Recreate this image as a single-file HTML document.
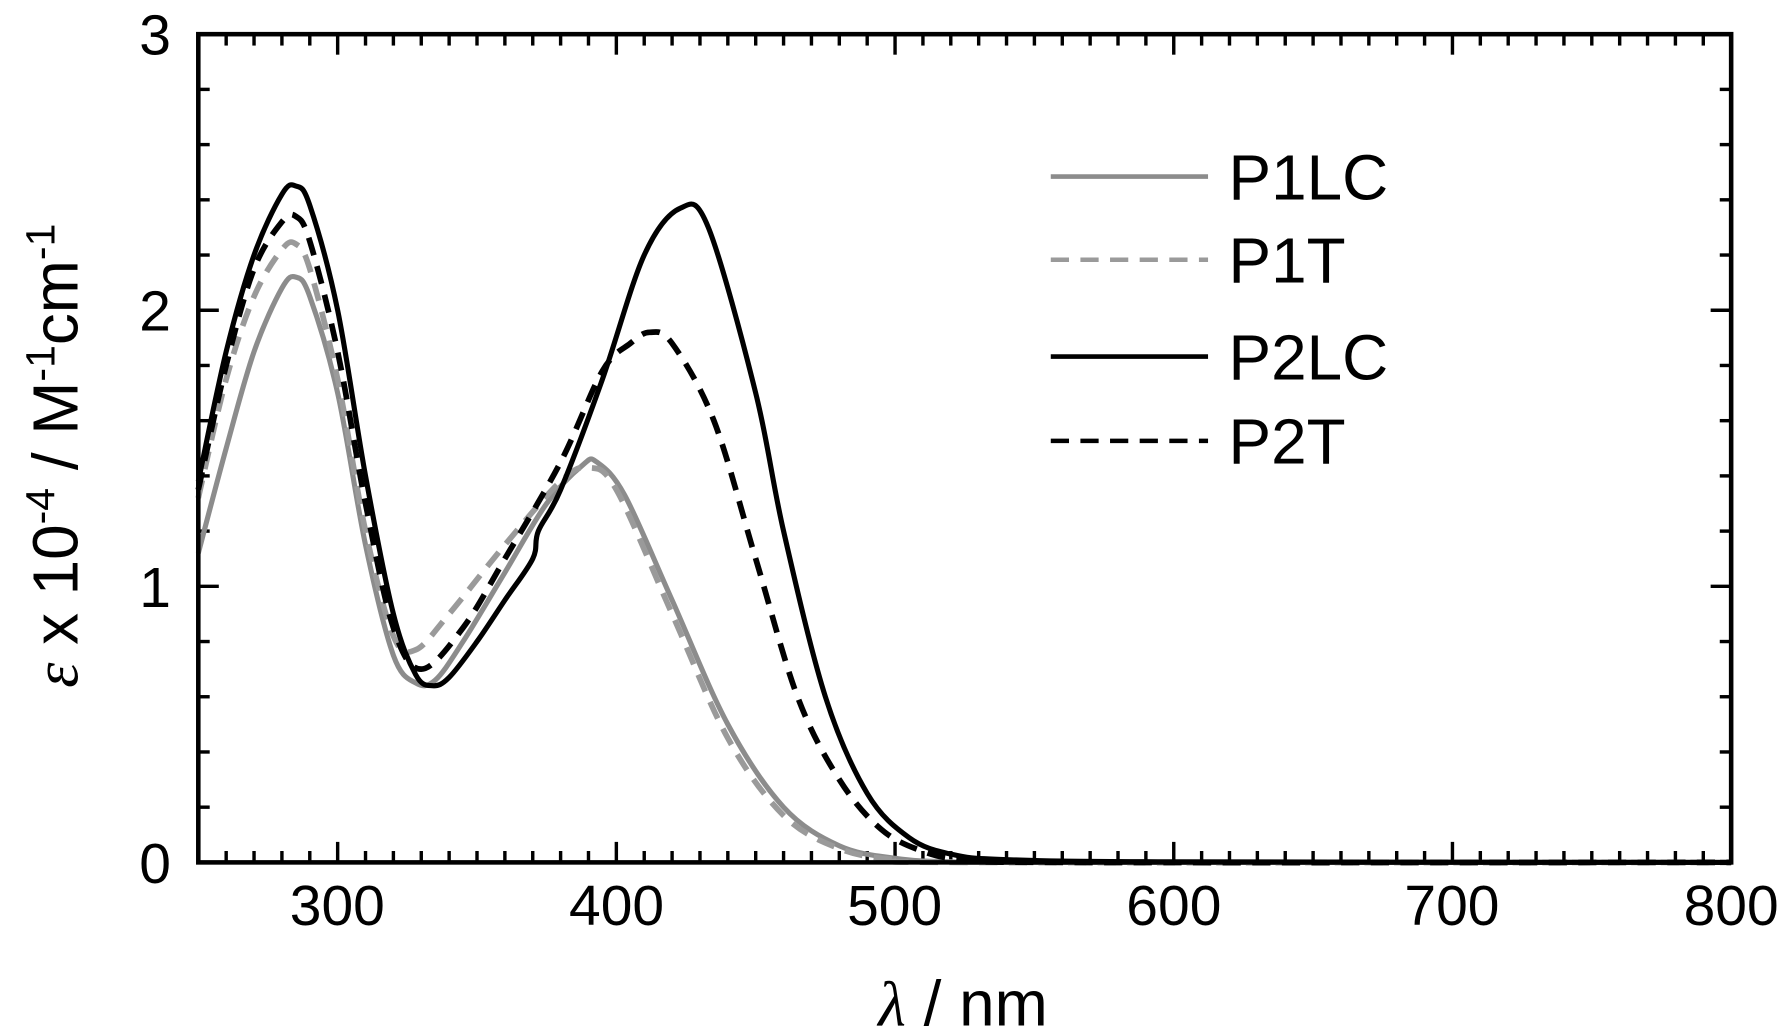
<!DOCTYPE html>
<html><head><meta charset="utf-8">
<style>
html,body{margin:0;padding:0;background:#fff;}
svg{display:block;}
text{font-family:"Liberation Sans",sans-serif;fill:#000;}
</style></head>
<body>
<svg id="s" width="1787" height="1031" viewBox="0 0 1568 905" preserveAspectRatio="none" xmlns="http://www.w3.org/2000/svg">
<g id="ticks" stroke="#000" stroke-width="3"></g>
<g id="curves" fill="none"></g>
<rect x="174" y="30" width="1345" height="727" fill="none" stroke="#000" stroke-width="4"/>
<g font-size="50" text-anchor="end">
<text x="150" y="775">0</text>
<text x="150" y="533">1</text>
<text x="150" y="290">2</text>
<text x="150" y="48">3</text>
</g>
<g font-size="50" text-anchor="middle">
<text x="296" y="812">300</text>
<text x="541" y="812">400</text>
<text x="785" y="812">500</text>
<text x="1030" y="812">600</text>
<text x="1274" y="812">700</text>
<text x="1519" y="812">800</text>
</g>
<text x="845" y="900" font-size="56" text-anchor="middle"><tspan font-style="italic" font-family="Liberation Serif">λ</tspan> / nm</text>
<text transform="translate(68,400) rotate(-90)" font-size="56" text-anchor="middle"><tspan font-style="italic" font-family="Liberation Serif">ε</tspan> x 10<tspan dy="-20" font-size="36">-4</tspan><tspan dy="20"> / M</tspan><tspan dy="-20" font-size="36">-1</tspan><tspan dy="20">cm</tspan><tspan dy="-20" font-size="36">-1</tspan></text>
<g stroke-width="4">
<line x1="922" y1="155" x2="1060" y2="155" stroke="#8c8c8c"/>
<line x1="922" y1="228" x2="1060" y2="228" stroke="#9a9a9a" stroke-dasharray="16,10"/>
<line x1="922" y1="313" x2="1060" y2="313" stroke="#000"/>
<line x1="922" y1="387" x2="1060" y2="387" stroke="#000" stroke-dasharray="16,10"/>
</g>
<g font-size="56">
<text x="1078" y="175">P1LC</text>
<text x="1078" y="248">P1T</text>
<text x="1078" y="333">P2LC</text>
<text x="1078" y="407">P2T</text>
</g>
</svg>
<script>
var X=function(n){return 174+(n-250)*1345/550;},Y=function(v){return 757-v*727/3;};
var t=document.getElementById('ticks'),h='';
for(var n=250;n<=800;n+=10){var L=(n%100==0)?18:10;var x=X(n);h+='<line x1="'+x+'" y1="757" x2="'+x+'" y2="'+(757-L)+'"/><line x1="'+x+'" y1="30" x2="'+x+'" y2="'+(30+L)+'"/>';}
for(var i=0;i<=15;i++){var v=i*0.2;var L=(i%5==0)?18:10;var y=Y(v);h+='<line x1="174" y1="'+y+'" x2="'+(174+L)+'" y2="'+y+'"/><line x1="1519" y1="'+y+'" x2="'+(1519-L)+'" y2="'+y+'"/>';}
t.innerHTML=h;
function path(d){var p=d.map(function(a){return [X(a[0]),Y(a[1])];});var s='M'+p[0][0]+','+p[0][1];
for(var i=0;i<p.length-1;i++){var p0=p[i-1]||p[i],p1=p[i],p2=p[i+1],p3=p[i+2]||p2;
s+=' C'+(p1[0]+(p2[0]-p0[0])/6)+','+(p1[1]+(p2[1]-p0[1])/6)+' '+(p2[0]-(p3[0]-p1[0])/6)+','+(p2[1]-(p3[1]-p1[1])/6)+' '+p2[0]+','+p2[1];}return s;}
var S=[
[[[250,1.12],[260,1.5],[270,1.85],[280,2.08],[285,2.12],[290,2.05],[300,1.7],[310,1.15],[320,0.75],[328,0.65],[335,0.66],[345,0.8],[360,1.05],[375,1.3],[388,1.44],[393,1.45],[403,1.33],[420,0.95],[440,0.5],[460,0.2],[480,0.06],[500,0.015],[520,0.002],[560,0],[800,0]],'#8c8c8c',4.5,''],
[[[250,1.32],[260,1.75],[270,2.05],[280,2.22],[285,2.24],[290,2.15],[300,1.75],[310,1.2],[320,0.82],[328,0.77],[340,0.9],[360,1.15],[380,1.38],[390,1.43],[400,1.35],[420,0.9],[440,0.45],[460,0.17],[480,0.05],[500,0.01],[530,0],[800,0]],'#9a9a9a',5,'16,10'],
[[[250,1.38],[260,1.85],[270,2.2],[280,2.42],[285,2.45],[290,2.38],[300,2.0],[310,1.4],[320,0.9],[328,0.68],[334,0.64],[340,0.67],[350,0.8],[360,0.95],[370,1.1],[372,1.2],[380,1.35],[395,1.75],[410,2.2],[423,2.37],[433,2.3],[450,1.7],[460,1.2],[475,0.6],[490,0.25],[505,0.09],[520,0.03],[540,0.01],[600,0.002],[800,0]],'#000',4.5,''],
[[[250,1.35],[260,1.8],[270,2.15],[280,2.32],[285,2.34],[290,2.25],[300,1.85],[310,1.3],[320,0.85],[330,0.7],[345,0.85],[360,1.1],[380,1.45],[395,1.78],[405,1.88],[412,1.92],[420,1.88],[435,1.6],[450,1.1],[465,0.6],[480,0.3],[495,0.12],[510,0.04],[525,0.01],[560,0],[800,0]],'#000',5,'16,10']];
var g='';S.forEach(function(s){g+='<path d="'+path(s[0])+'" stroke="'+s[1]+'" stroke-width="'+s[2]+'"'+(s[3]?' stroke-dasharray="'+s[3]+'"':'')+'/>';});
document.getElementById('curves').innerHTML=g;
</script>
</body></html>
